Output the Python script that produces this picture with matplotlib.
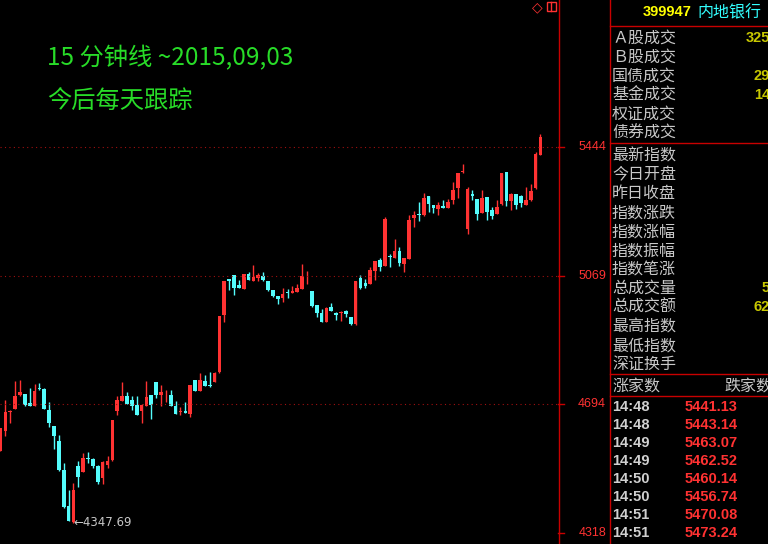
import numpy as np
import matplotlib
matplotlib.use('Agg')
import matplotlib.pyplot as plt
from matplotlib.transforms import blended_transform_factory
from matplotlib.patches import Rectangle
from matplotlib.lines import Line2D

plt.rcParams['font.family'] = ['Noto Sans CJK SC', 'DejaVu Sans']

# 15-minute candles
opens = [4557, 4615, 4672, 4679, 4720, 4723, 4697, 4688, 4739, 4738,
         4677, 4630, 4586, 4501, 4396, 4350, 4513, 4496, 4537, 4534,
         4513, 4478, 4516, 4531, 4674, 4703, 4717, 4706, 4691, 4674,
         4688, 4720, 4758, 4720, 4728, 4720, 4688, 4670, 4674, 4665,
         4764, 4732, 4761, 4748, 4758, 4787, 4954, 5059, 5070, 5041,
         5030, 5073, 5053, 5062, 5068, 5053, 5027, 5009, 5003, 5019,
         5018, 5021, 5030, 5072, 5024, 4983, 4960, 4933, 4977, 4960,
         4961, 4965, 4948, 4928, 5062, 5047, 5044, 5082, 5114, 5097,
         5124, 5120, 5141, 5103, 5117, 5237, 5249, 5246, 5301, 5275,
         5263, 5272, 5266, 5289, 5324, 5370, 5205, 5307, 5292, 5251,
         5298, 5260, 5249, 5278, 5371, 5286, 5307, 5301, 5275, 5289,
         5324, 5421]
highs = [4624, 4706, 4677, 4761, 4764, 4724, 4741, 4752, 4755, 4740,
         4700, 4630, 4604, 4522, 4443, 4464, 4528, 4551, 4554, 4536,
         4516, 4528, 4542, 4647, 4717, 4758, 4729, 4717, 4717, 4694,
         4761, 4720, 4758, 4750, 4735, 4735, 4703, 4685, 4700, 4750,
         4764, 4785, 4779, 4787, 4787, 4951, 5053, 5059, 5070, 5056,
         5073, 5079, 5100, 5076, 5079, 5053, 5027, 5009, 5033, 5030,
         5038, 5044, 5103, 5082, 5024, 4983, 4971, 4977, 4989, 4962,
         4965, 4968, 4948, 5053, 5070, 5059, 5094, 5111, 5120, 5240,
         5132, 5176, 5152, 5120, 5246, 5257, 5284, 5310, 5301, 5275,
         5284, 5289, 5292, 5342, 5368, 5394, 5327, 5319, 5292, 5319,
         5298, 5269, 5289, 5368, 5371, 5310, 5307, 5304, 5327, 5336,
         5429, 5482]
lows = [4557, 4601, 4639, 4679, 4717, 4688, 4688, 4688, 4735, 4679,
        4627, 4563, 4500, 4390, 4352, 4347.69, 4452, 4496, 4522, 4507,
        4461, 4461, 4507, 4528, 4662, 4703, 4694, 4677, 4662, 4639,
        4688, 4650, 4712, 4688, 4700, 4688, 4665, 4662, 4668, 4656,
        4732, 4732, 4747, 4744, 4758, 4785, 4933, 5027, 5012, 5033,
        5030, 5056, 5053, 5053, 5053, 5024, 5006, 4986, 4992, 5003,
        5018, 5021, 5030, 5044, 4977, 4948, 4933, 4933, 4965, 4939,
        4936, 4948, 4925, 4925, 5030, 5033, 5044, 5056, 5082, 5097,
        5094, 5120, 5097, 5079, 5117, 5211, 5228, 5243, 5254, 5251,
        5246, 5266, 5266, 5278, 5295, 5368, 5190, 5289, 5231, 5251,
        5231, 5234, 5249, 5275, 5272, 5260, 5263, 5269, 5275, 5286,
        5321, 5421]
closes = [4624, 4671, 4674, 4717, 4729, 4691, 4688, 4732, 4737, 4679,
          4639, 4601, 4501, 4393, 4353, 4443, 4481, 4536, 4535, 4513,
          4466, 4525, 4528, 4647, 4706, 4717, 4694, 4688, 4662, 4691,
          4714, 4691, 4720, 4729, 4730, 4688, 4665, 4672, 4668, 4750,
          4732, 4764, 4747, 4746, 4785, 4951, 5053, 5053, 5033, 5033,
          5073, 5056, 5065, 5070, 5056, 5027, 5009, 5000, 5015, 5017,
          5024, 5033, 5068, 5074, 4980, 4960, 4933, 4974, 4965, 4954,
          4963, 4957, 4928, 5053, 5033, 5038, 5085, 5111, 5094, 5234,
          5122, 5141, 5106, 5120, 5231, 5246, 5246, 5295, 5278, 5266,
          5275, 5266, 5284, 5319, 5368, 5372, 5321, 5301, 5249, 5295,
          5254, 5243, 5269, 5368, 5286, 5307, 5275, 5281, 5289, 5316,
          5424, 5473.24]

price_ticks = [5444, 5069, 4694, 4318]
low_label = '←4347.69'

title1 = '15 分钟线 ~2015,09,03'
title2 = '今后每天跟踪'

code = '399947'
name = '内地银行'
rows_top = ['Ａ股成交', 'Ｂ股成交', '国债成交', '基金成交', '权证成交', '债券成交']
vals_top = ['325', '', '29', '14', '', '']
rows_mid = ['最新指数', '今日开盘', '昨日收盘', '指数涨跌', '指数涨幅', '指数振幅',
            '指数笔涨', '总成交量', '总成交额', '最高指数', '最低指数', '深证换手']
vals_mid = ['', '', '', '', '', '', '', '5', '62', '', '', '']
tick_times = ['14:48', '14:48', '14:49', '14:49', '14:50', '14:50', '14:51', '14:51']
tick_prices = ['5441.13', '5443.14', '5463.07', '5462.52', '5460.14', '5456.74', '5470.08', '5473.24']

RED = '#ff3232'
CYAN = '#54fcfc'
LINE = '#c80000'
GRAY = '#c8c8c8'
W, H = 768, 544


def fx(x):
    return x / W


def fy(y):
    return 1 - y / H


def cjk(xp, yc, s, size=11.5, color=GRAY, **kw):
    # place CJK text by its visual centre: baseline sits ~0.38 em below it
    em = size * 100 / 72
    fig.text(fx(xp), fy(yc + 0.38 * em), s, color=color, fontsize=size,
             va='baseline', **kw)


def num(xp, yc, s, size=10, color=GRAY, **kw):
    em = size * 100 / 72
    fig.text(fx(xp), fy(yc + 0.36 * em), s, color=color, fontsize=size,
             va='baseline', family=['Liberation Sans'], **kw)


fig = plt.figure(figsize=(7.68, 5.44), dpi=100, facecolor='black')
ax = fig.add_axes([0, 0, 558 / W, 1])
ax.set_facecolor('black')
for s in ax.spines.values():
    s.set_visible(False)
ax.set_xticks([])
ax.set_yticks([])

o = np.array(opens, float)
h = np.array(highs, float)
l = np.array(lows, float)
c = np.array(closes, float)
x = np.arange(len(o))
up = c >= o
cols = np.where(up, RED, CYAN)

ax.vlines(x, l, h, colors=cols, lw=1)
body = np.maximum(np.abs(c - o), 2.5)
ax.bar(x, body, bottom=np.minimum(o, c), width=0.76, color=cols, linewidth=0)

ax.set_xlim(-0.1, 114.6)
ax.set_ylim(4285.6, 5872.9)

for p in price_ticks[:3]:
    ax.axhline(p, color='#a01010', lw=0.8, ls=(0, (1, 3)))

ax.text(14.9, 4347.69, low_label, color=GRAY, fontsize=8.5,
        family=['DejaVu Sans'], va='center', ha='left')

cjk(47, 56, title1, size=17.5, color='#28dc28')
cjk(47, 100, title2, size=17.5, color='#28dc28')

# price axis
tr = blended_transform_factory(fig.transFigure, ax.transData)
for p in price_ticks:
    fig.text(fx(606), p, str(p), transform=tr, color=RED, fontsize=9,
             family=['Liberation Sans'], ha='right', va='center')
    fig.add_artist(Line2D([fx(558), fx(564)], [p, p], transform=tr, color=LINE, lw=1))

# frame lines
fig.add_artist(Line2D([fx(558.5), fx(558.5)], [0, 1], color=LINE, lw=1))
fig.add_artist(Line2D([fx(609.5), fx(609.5)], [0, 1], color=LINE, lw=1))
for yy in [26, 143, 374, 396]:
    fig.add_artist(Line2D([fx(609.5), 1], [fy(yy), fy(yy)], color=LINE, lw=1))

# small icons at top
fig.text(fx(537), fy(7), '◇', color=RED, fontsize=10, family=['DejaVu Sans'],
         ha='center', va='center')
fig.add_artist(Rectangle((fx(547), fy(11)), fx(9), 9 / H, fill=False, edgecolor=RED, lw=1))
fig.add_artist(Line2D([fx(551), fx(551)], [fy(11), fy(2)], color=RED, lw=1))

# right panel
num(692, 11, code, size=10.5, color='#ffff00', weight='bold', ha='right')
cjk(697, 11, name, color='#33ffff')

for i, (lab, v) in enumerate(zip(rows_top, vals_top)):
    yy = 37 + 19 * i
    cjk(612, yy, lab)
    if v:
        num(768 - 7.6 * len(v) + 1, yy, v, size=10.5, color='#c8c800', weight='bold')

for i, (lab, v) in enumerate(zip(rows_mid, vals_mid)):
    yy = 154 + 19 * i
    cjk(612, yy, lab)
    if v:
        num(768 - 7.6 * len(v) + 1, yy, v, size=10.5, color='#c8c800', weight='bold')

cjk(612, 385, '涨家数')
cjk(724, 385, '跌家数')

for i, (t, p) in enumerate(zip(tick_times, tick_prices)):
    yy = 406 + 18 * i
    num(612, yy, t, size=10.5, color='#d0d0d0', weight='bold')
    num(685, yy, p, size=10.5, color=RED, weight='bold')

fig.savefig('out.png', dpi=100, facecolor='black')
